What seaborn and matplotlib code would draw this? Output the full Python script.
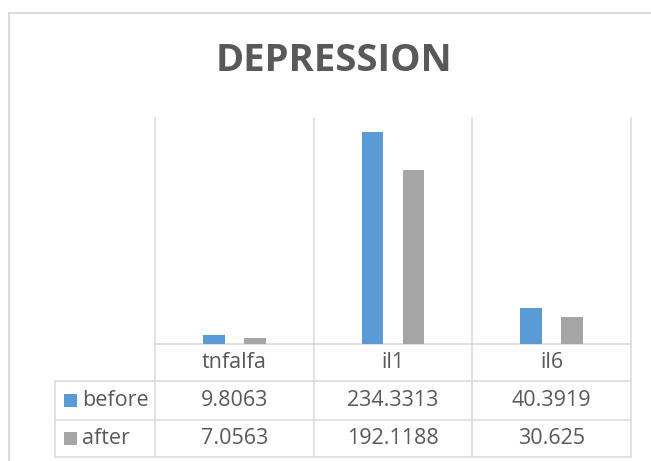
import numpy as np
import pandas as pd
import matplotlib
matplotlib.use("Agg")
import matplotlib.pyplot as plt
from matplotlib.patches import Rectangle
import seaborn as sns

# ---- data ----
categories = ["tnfalfa", "il1", "il6"]
series = ["before", "after"]
before = [9.8063, 234.3313, 40.3919]
after = [7.0563, 192.1188, 30.625]
before_labels = ["9.8063", "234.3313", "40.3919"]
after_labels = ["7.0563", "192.1188", "30.625"]
title = "DEPRESSION"
colors = ["#5B9BD5", "#A5A5A5"]

# ---- style ----
W, H = 651, 461
sns.set_theme(style="white")
plt.rcParams["font.family"] = ["Open Sans", "DejaVu Sans"]
TXT = "#595959"
GRID = "#D9D9D9"
LW = 1.1

fig = plt.figure(figsize=(W / 100, H / 100), dpi=100)


def fx(px):
    return px / W


def fy(py):
    return 1 - py / H


plot_l, plot_r, plot_t, base = 155, 631, 118, 344.3
tab_l = 55
row_y = [344.3, 381, 419.5, 457]

# ---- bars ----
ax = fig.add_axes([fx(plot_l), fy(base), fx(plot_r) - fx(plot_l), fy(plot_t) - fy(base)])
df = pd.DataFrame({
    "category": categories * 2,
    "series": [series[0]] * len(categories) + [series[1]] * len(categories),
    "value": before + after,
})
sns.barplot(data=df, x="category", y="value", hue="series", order=categories,
            hue_order=series, palette=colors, width=0.516, gap=0.465,
            errorbar=None, legend=False, saturation=1, linewidth=0, ax=ax)
ax.set_xlim(-0.5, len(categories) - 0.5)
ax.set_ylim(0, 250)
ax.axis("off")

# ---- overlay in pixel coordinates for frame and data table ----
ov = fig.add_axes([0, 0, 1, 1], zorder=-1)
ov.set_xlim(0, W)
ov.set_ylim(H, 0)
ov.axis("off")

# chart border
ov.plot([9, 9, W + 5], [H + 5, 13, 13], color=GRID, lw=1.3, solid_joinstyle="miter")

cw = (plot_r - plot_l) / len(categories)
bounds = [plot_l + i * cw for i in range(len(categories) + 1)]
centers = [plot_l + (i + 0.5) * cw for i in range(len(categories))]

for xb in bounds:
    ov.plot([xb, xb], [plot_t, row_y[3]], color=GRID, lw=LW)
ov.plot([plot_l, plot_r], [row_y[0], row_y[0]], color=GRID, lw=LW)
for yy in row_y[1:]:
    ov.plot([tab_l, plot_r], [yy, yy], color=GRID, lw=LW)
ov.plot([tab_l, tab_l], [row_y[1], row_y[3]], color=GRID, lw=LW)

FS = 15.5
for c, xc in zip(categories, centers):
    ov.text(xc, (row_y[0] + row_y[1]) / 2, c, ha="center", va="center", fontsize=FS, color=TXT)
for lab, xc in zip(before_labels, centers):
    ov.text(xc, (row_y[1] + row_y[2]) / 2, lab, ha="center", va="center", fontsize=FS, color=TXT)
for lab, xc in zip(after_labels, centers):
    ov.text(xc, (row_y[2] + row_y[3]) / 2, lab, ha="center", va="center", fontsize=FS, color=TXT)

for i, (name, col) in enumerate(zip(series, colors)):
    yc = (row_y[i + 1] + row_y[i + 2]) / 2
    ov.add_patch(Rectangle((63.5, yc - 6.5), 13, 13, color=col, lw=0))
    ov.text(82, yc, name, ha="left", va="center", fontsize=FS, color=TXT)

# ---- title ----
fig.text(fx(333.7), fy(61), title, ha="center", va="center", fontsize=27.5,
         fontweight="bold", color=TXT)

fig.savefig("out.png", dpi=100)
